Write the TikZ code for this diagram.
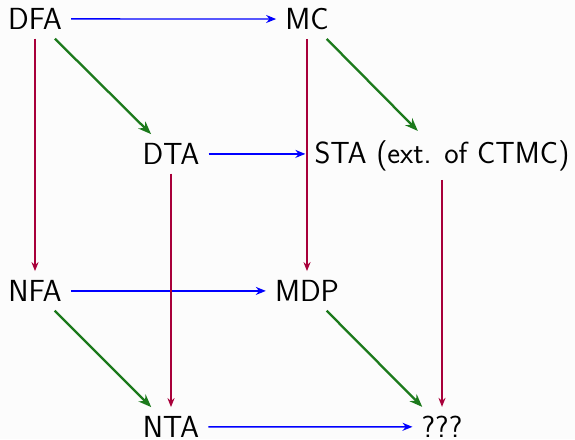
\documentclass[tikz,border=0pt]{standalone}
\usetikzlibrary{arrows.meta}
\definecolor{cblue}{RGB}{0,0,255}
\definecolor{cgreen}{RGB}{28,122,28}
\definecolor{cred}{RGB}{168,0,58}
\begin{document}
\begin{tikzpicture}[x=1pt,y=-1pt,
  lbl/.style={font=\fontsize{30.5}{36}\selectfont\sffamily, inner sep=9pt, anchor=base},
  barr/.style={draw=cblue, line width=1.4pt, -{Stealth[length=10pt,width=8pt]}},
  garr/.style={draw=cgreen, line width=2.3pt, -{Stealth[length=13pt,width=10pt]}},
  rarr/.style={draw=cred, line width=1.6pt, -{Stealth[length=9pt,width=7pt]}}]
\useasboundingbox[fill={rgb,255:red,252;green,252;blue,252}] (0,0) rectangle (575,439);
\node[lbl] (dfa) at (35,29.5) {DFA};
\node[lbl] (mc) at (307,29.5) {MC};
\node[lbl] (dta) at (171,164.5) {DTA};
\node[lbl] (sta) at (442,163) {STA (ext. of CTMC)};
\node[lbl] (nfa) at (35,301.5) {NFA};
\node[lbl] (mdp) at (307,301.5) {MDP};
\node[lbl] (nta) at (171,437.5) {NTA};
\node[lbl] (q) at (442,437.5) {???};
\draw[barr] (dfa) -- (mc);
\draw[barr] (dta.east) -- (dta.east -| sta.west);
\draw[barr] (nfa) -- (mdp);
\draw[barr] (nta) -- (q);
\draw[rarr] (dfa) -- (nfa);
\draw[rarr] (mc) -- (mdp);
\draw[rarr] (dta) -- (nta);
\draw[rarr] (sta) -- (q);
\draw[garr] (dfa) -- (dta);
\draw[garr] (mc) -- (sta);
\draw[garr] (nfa) -- (nta);
\draw[garr] (mdp) -- (q);
\end{tikzpicture}
\end{document}
